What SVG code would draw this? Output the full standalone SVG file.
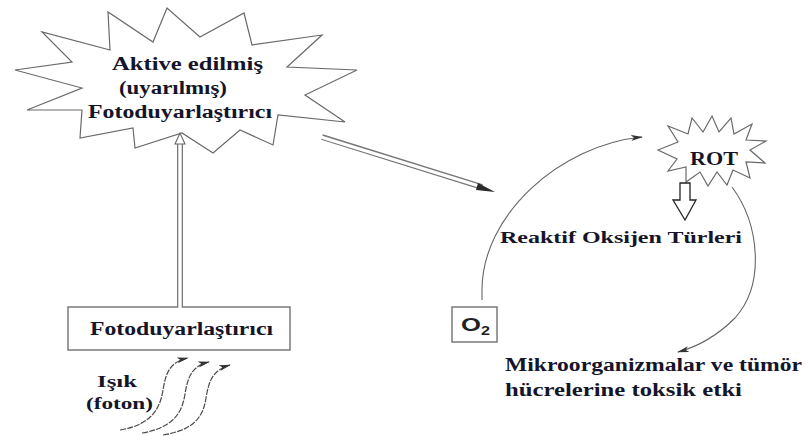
<svg xmlns="http://www.w3.org/2000/svg" width="808" height="436" viewBox="0 0 808 436">
  <style>
    .lbl { font-family: 'Liberation Serif', 'Times New Roman', serif; font-weight: bold; fill: #15152a; }
    .burst { fill: #ffffff; stroke: #6a6a6a; stroke-width: 1.2; stroke-linejoin: miter; }
    .box { fill: #ffffff; stroke: #7a7a7a; stroke-width: 1.5; }
    .arc { fill: none; stroke: #666666; stroke-width: 1.1; }
    .photon { fill: none; stroke: #4a4a4a; stroke-width: 1.2; stroke-dasharray: 6 1.2; }
    .dbl-out { fill: none; stroke: #777777; stroke-width: 6; }
    .dbl-in { fill: none; stroke: #ffffff; stroke-width: 3.4; }
  </style>
  <defs>
    <marker id="head" viewBox="0 0 12 8" refX="11" refY="4" markerWidth="12" markerHeight="8" markerUnits="userSpaceOnUse" orient="auto">
      <path d="M0,1 L12,4 L0,7 L3,4 Z" fill="#333333"/>
    </marker>
  </defs>

  <rect width="808" height="436" fill="#ffffff"/>

  <!-- excited photosensitiser -->
  <g id="aktive">
    <polygon class="burst" points="15,70 72,62 42,32 110,50 108,12 153,42 167,8 200,37 244,13 252,45 322,35 287,67 357,70 305,95 345,122 278,115 273,145 240,130 213,153 182,133 135,148 133,128 80,138 82,110 27,110 82,88"/>
    <text class="lbl" x="112" y="70" font-size="18.5" textLength="151" lengthAdjust="spacingAndGlyphs">Aktive edilmiş</text>
    <text class="lbl" x="119" y="94" font-size="18.5" textLength="108" lengthAdjust="spacingAndGlyphs">(uyarılmış)</text>
    <text class="lbl" x="88" y="118" font-size="18.5" textLength="184" lengthAdjust="spacingAndGlyphs">Fotoduyarlaştırıcı</text>
  </g>

  <!-- ground-state photosensitiser -->
  <g id="fotoduyarlastirici">
    <rect class="box" x="68" y="307" width="222" height="43"/>
    <text class="lbl" x="90" y="335" font-size="18.5" textLength="183" lengthAdjust="spacingAndGlyphs">Fotoduyarlaştırıcı</text>
  </g>

  <!-- light -->
  <g id="isik">
    <text class="lbl" x="97" y="387" font-size="17.5" textLength="40" lengthAdjust="spacingAndGlyphs">Işık</text>
    <text class="lbl" x="86" y="409" font-size="17.5" textLength="67" lengthAdjust="spacingAndGlyphs">(foton)</text>
  </g>

  <!-- molecular oxygen -->
  <g id="o2">
    <rect class="box" x="452" y="307" width="45" height="35"/>
    <text transform="translate(461,331) scale(1.35,1)" font-family="'Liberation Sans', Arial, sans-serif" font-weight="bold" font-size="19" fill="#222222">O<tspan font-size="12" dy="4">2</tspan></text>
  </g>

  <!-- reactive oxygen species -->
  <g id="rot">
    <polygon class="burst" points="658,150 678,142 668,126 688,134 692,118 703,132 712,116 719,132 731,118 734,134 752,124 746,140 766,141 750,150 765,163 746,162 750,178 733,170 727,185 717,172 708,186 700,172 686,182 686,167 668,171 677,159"/>
    <text class="lbl" x="690" y="165" font-size="19.5" textLength="48" lengthAdjust="spacingAndGlyphs">ROT</text>
  </g>

  <g id="reaktif">
    <text class="lbl" x="500" y="243" font-size="17.5" textLength="242" lengthAdjust="spacingAndGlyphs">Reaktif Oksijen Türleri</text>
  </g>

  <g id="etki">
    <text class="lbl" x="505" y="371" font-size="18.5" textLength="297" lengthAdjust="spacingAndGlyphs">Mikroorganizmalar ve tümör</text>
    <text class="lbl" x="505" y="396" font-size="18.5" textLength="237" lengthAdjust="spacingAndGlyphs">hücrelerine toksik etki</text>
  </g>

  <!-- connectors -->
  <g id="connectors">
    <!-- excitation: box up to excited state -->
    <path class="dbl-out" d="M180,307 V142"/>
    <path class="dbl-in" d="M180,308 V143"/>
    <path d="M175,144 L180,133 L185,144 Z" fill="#ffffff" stroke="#666666" stroke-width="1.1"/>

    <!-- energy transfer to oxygen -->
    <path class="dbl-out" d="M322,137 L482,187" stroke-width="5"/>
    <path class="dbl-in" d="M321,137 L482,187" stroke-width="2.4"/>
    <path d="M478,183 L495,192 L476,190 Z" fill="#2a2a2a"/>

    <!-- O2 to ROT -->
    <path class="arc" d="M482,300 L482,290 C482,215 560,145 642,137" marker-end="url(#head)"/>

    <!-- ROT to toxic effect -->
    <path class="arc" d="M732,187 C760,225 765,285 735,318 C718,335 700,346 678,352" marker-end="url(#head)"/>

    <!-- open arrow ROT to label -->
    <path d="M680,183 H690 V200 H696 L685,220 L673,200 H680 Z" fill="#ffffff" stroke="#222222" stroke-width="1.3" stroke-linejoin="miter"/>

    <!-- photons -->
    <path class="photon" d="M120,430 C150,425 160,410 163,390 C166,372 170,362 188,358" marker-end="url(#head)"/>
    <path class="photon" d="M142,433 C172,428 182,414 185,394 C188,376 192,366 209,362" marker-end="url(#head)"/>
    <path class="photon" d="M163,435 C193,430 203,418 206,398 C209,380 213,370 230,365" marker-end="url(#head)"/>
  </g>
</svg>
